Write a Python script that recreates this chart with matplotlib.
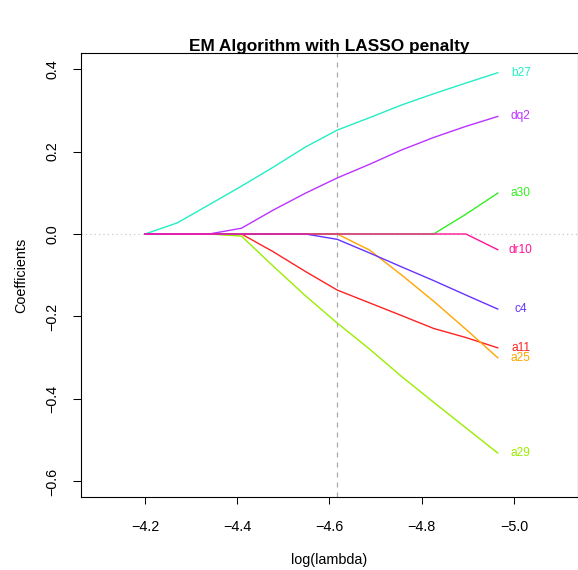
import matplotlib
matplotlib.use("Agg")
import matplotlib.pyplot as plt

plt.rcParams['font.family'] = ['Liberation Sans', 'DejaVu Sans']

# log(lambda) grid
log_lambda = [-4.200, -4.270, -4.339, -4.409, -4.478, -4.548,
              -4.617, -4.687, -4.757, -4.826, -4.896, -4.965]

a11  = [0, 0, 0, 0, -0.043, -0.091, -0.136, -0.167, -0.198, -0.229, -0.251, -0.276]
a25  = [0, 0, 0, 0, 0, 0, 0, -0.039, -0.100, -0.163, -0.231, -0.300]
a29  = [0, 0, 0, -0.005, -0.078, -0.150, -0.216, -0.279, -0.346, -0.408, -0.470, -0.531]
a30  = [0, 0, 0, 0, 0, 0, 0, 0, 0, 0, 0.048, 0.099]
b27  = [0, 0.027, 0.071, 0.116, 0.162, 0.211, 0.252, 0.282, 0.313, 0.340, 0.366, 0.391]
c4   = [0, 0, 0, 0, 0, 0, -0.013, -0.046, -0.080, -0.113, -0.148, -0.182]
dq2  = [0, 0, 0, 0.014, 0.058, 0.099, 0.136, 0.169, 0.204, 0.234, 0.261, 0.285]
dr10 = [0, 0, 0, 0, 0, 0, 0, 0, 0, 0, 0, -0.038]

names = ['a11', 'a25', 'a29', 'a30', 'b27', 'c4', 'dq2', 'dr10']
series = [a11, a25, a29, a30, b27, c4, dq2, dr10]
colors = ['#FF2222', '#FFA500', '#99EE00', '#33EE22', '#22EEC4', '#6633FF', '#BB33FF', '#FF1493']

selected_log_lambda = -4.617
label_x = -5.015

fig = plt.figure(figsize=(5.78, 5.70), dpi=100)
W, H = 578, 570
left, right, top, bottom = 80.7, 577.5, 53, 497
ax = fig.add_axes([left / W, 1 - bottom / H, (right - left) / W, (bottom - top) / H])

ax.axhline(0, color='#C8C8C8', lw=0.9, ls=(0, (1, 2.5)), zorder=1)
ax.axvline(selected_log_lambda, color='#AAAAAA', lw=0.9, ls=(0, (4, 4)), zorder=1)

for name, ys, c in zip(names, series, colors):
    ax.plot(log_lambda, ys, color=c, lw=1.0, zorder=2)
    ax.text(label_x, ys[-1], name, color=c, ha='center', va='center', fontsize=8.6)

ax.set_xlim(-4.0604, -5.138)
ax.set_ylim(-0.6376, 0.4388)

ax.set_xticks([-4.2, -4.4, -4.6, -4.8, -5.0])
ax.set_xticklabels(['\u22124.2', '\u22124.4', '\u22124.6', '\u22124.8', '\u22125.0'])
ax.set_yticks([0.4, 0.2, 0.0, -0.2, -0.4, -0.6])
ax.set_yticklabels(['0.4', '0.2', '0.0', '\u22120.2', '\u22120.4', '\u22120.6'],
                   rotation=90, va='center')

ax.tick_params(axis='x', length=5, width=0.75, pad=11.5, labelsize=10.4)
ax.tick_params(axis='y', length=5.5, width=0.75, pad=10.0, labelsize=10.4)
for s in ax.spines.values():
    s.set_linewidth(0.8)

fig.text(329 / W, 1 - 46 / H, 'EM Algorithm with LASSO penalty', ha='center', va='center',
         fontsize=12.4, fontweight='bold')
fig.text(329 / W, 1 - 560 / H, 'log(lambda)', ha='center', va='center', fontsize=10.4)
fig.text(21 / W, 1 - 275 / H, 'Coefficients', ha='center', va='center', fontsize=10.4, rotation=90)

fig.savefig('out.png', dpi=100)
